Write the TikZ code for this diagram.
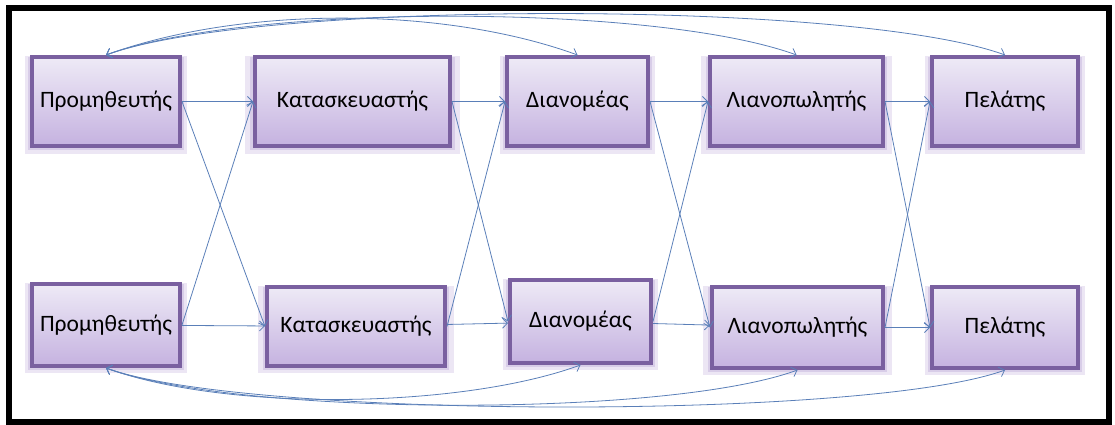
\documentclass[tikz,border=0pt]{standalone}
\usepackage{fontspec}
\setmainfont{Carlito}
\usepackage{tikz}
\usetikzlibrary{arrows.meta}
\usetikzlibrary{shadows}
\definecolor{boxedge}{HTML}{7A60A0}
\definecolor{boxtop}{HTML}{EEEAF6}
\definecolor{boxbot}{HTML}{C5B2E0}
\definecolor{boxglow}{HTML}{B39DD3}
\definecolor{linkblue}{HTML}{5A7FB8}
\tikzset{
    stage/.style={
           rectangle,
           draw=boxedge, line width=4pt,
           top color=boxtop, bottom color=boxbot,
           general shadow={fill=boxglow, opacity=.25, shadow scale=1.10, shadow yshift=-3pt},
           general shadow={fill=boxglow, opacity=.35, shadow scale=1.05, shadow yshift=-2pt},
           inner sep=2pt,
           text centered,
           font=\fontsize{23.5}{27}\selectfont,
           },
    flow/.style={color=linkblue, line width=.8pt},
}

\begin{document}
\begin{tikzpicture}[x=1pt, y=1pt, >={Straight Barb[length=5pt,width=10pt]}]
      \useasboundingbox (0,0) rectangle (1115,-425);
      \draw[line width=6pt] (8.5,-8) rectangle (1109,-421.5);
      % top row
      \node[stage, minimum width=148pt, minimum height=89pt] (t_1) at (106,-101.5)   {Προμηθευτής};
      \node[stage, minimum width=195pt, minimum height=89pt] (t_2) at (352.5,-101.5) {Κατασκευαστής};
      \node[stage, minimum width=141pt, minimum height=89pt] (t_3) at (577.5,-101.5) {Διανομέας};
      \node[stage, minimum width=173pt, minimum height=89pt] (t_4) at (796.5,-101.5) {Λιανοπωλητής};
      \node[stage, minimum width=146pt, minimum height=89pt] (t_5) at (1005,-101.5)  {Πελάτης};
      % bottom row
      \node[stage, minimum width=148pt, minimum height=82pt] (b_1) at (106,-325)     {Προμηθευτής};
      \node[stage, minimum width=178pt, minimum height=79pt] (b_2) at (356,-326.5)   {Κατασκευαστής};
      \node[stage, minimum width=141pt, minimum height=83pt] (b_3) at (580.5,-321.5) {Διανομέας};
      \node[stage, minimum width=171pt, minimum height=81pt] (b_4) at (797.5,-327.5) {Λιανοπωλητής};
      \node[stage, minimum width=146pt, minimum height=81pt] (b_5) at (1005,-327.5)  {Πελάτης};
      \path[->, flow]
      (t_1) edge (t_2)
      (t_2) edge (t_3)
      (t_3) edge (t_4)
      (t_4) edge (t_5)
      (b_1) edge (b_2)
      (b_2) edge (b_3)
      (b_3) edge (b_4)
      (b_4) edge (b_5)
      (t_1.east) edge (b_2.west)
      (b_1.east) edge (t_2.west)
      (t_2.east) edge (b_3.west)
      (b_2.east) edge (t_3.west)
      (t_3.east) edge (b_4.west)
      (b_3.east) edge (t_4.west)
      (t_4.east) edge (b_5.west)
      (b_4.east) edge (t_5.west);
      \path[<->, flow]
      (t_1.north) edge[out=20, in=160, looseness=.78] (t_3.north)
      (t_1.north) edge[out=20, in=160, looseness=.56] (t_4.north)
      (t_1.north) edge[out=20, in=160, looseness=.46] (t_5.north)
      (b_1.south) edge[out=-20, in=-160, looseness=.69] (b_3.south)
      (b_1.south) edge[out=-20, in=-160, looseness=.52] (b_4.south)
      (b_1.south) edge[out=-20, in=-160, looseness=.42] (b_5.south);
\end{tikzpicture}
\end{document}
